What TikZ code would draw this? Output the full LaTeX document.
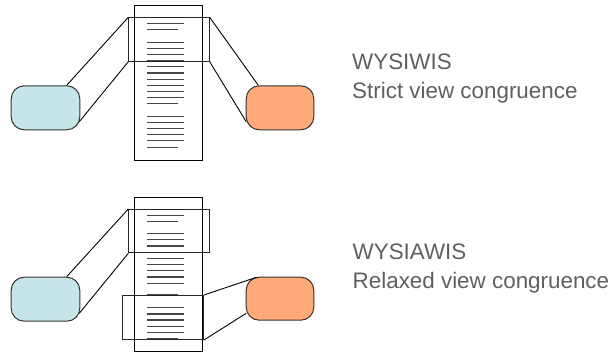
\documentclass[tikz,border=0pt]{standalone}
\usepackage{fontspec}
\setmainfont{Liberation Sans}
\definecolor{captiongray}{RGB}{95,95,95}
\definecolor{viewblue}{RGB}{198,229,232}
\definecolor{vieworange}{RGB}{255,170,120}
\tikzset{
  page/.style={draw=black, line width=1pt, fill=white, inner sep=0pt, anchor=north west},
  textline/.style={draw=black!72, line width=1.1pt},
  win/.style={draw=black!85, line width=1pt, inner sep=0pt, anchor=north west},
  link/.style={draw=black, line width=0.9pt},
  viewbox/.style={draw=black!80, line width=1pt, rounded corners=13pt, inner sep=0pt, anchor=north west},
  caption/.style={anchor=base west, text=captiongray, inner sep=0pt,
    font=\fontsize{22.4}{29}\selectfont, align=left}
}
\begin{document}
\begin{tikzpicture}[x=1pt,y=-1pt]
\useasboundingbox (0,0) rectangle (616,353);

% ---------- WYSIWIS: both views show the same region ----------
\node[page, minimum width=68pt, minimum height=155pt] (doc1) at (134.3,5) {};
\foreach \yy in {23.7, 42.3, 48.45, 54.6, 60.75, 66.9, 73.05, 79.2, 85.35, 91.5, 97.65,
                 116.3, 122.45, 128.6, 134.75, 140.9}
  \draw[textline] (146.7,\yy) -- (183.7,\yy);
\foreach \yy in {29.9, 103.8, 147.05}
  \draw[textline] (146.7,\yy) -- (177.7,\yy);

\node[win, minimum width=80.4pt, minimum height=43.4pt] (win1) at (128.3,17.3) {};

\node[viewbox, fill=viewblue, minimum width=68.6pt, minimum height=44pt] (blue1) at (10.7,85.3) {};
\node[viewbox, fill=vieworange, minimum width=67.6pt, minimum height=44pt] (orange1) at (245.7,85.3) {};

\coordinate (b1a) at (66.7,85.3);
\coordinate (b1b) at (79.3,121.7);
\coordinate (o1a) at (258.3,85.3);
\coordinate (o1b) at (246.2,121.7);
\draw[link] (win1.north west) -- (b1a);
\draw[link] (win1.south west) -- (b1b);
\draw[link] (win1.north east) -- (o1a);
\draw[link] (win1.south east) -- (o1b);

% the anchor sits on the baseline of the last caption line
\node[caption] (cap1) at (352,98.3) {WYSIWIS\\Strict view congruence};

% ---------- WYSIAWIS: the views show different regions ----------
\node[page, minimum width=68pt, minimum height=154pt] (doc2) at (134.3,197) {};
\foreach \yy in {215.3, 233.7, 239.7, 246, 252.3, 258.3, 264.7, 270.7, 277, 283.3,
                 307.7, 314, 320, 326.3, 332.3}
  \draw[textline] (146.7,\yy) -- (183.7,\yy);
\foreach \yy in {221.3, 295, 339}
  \draw[textline] (146.7,\yy) -- (177.7,\yy);

\node[win, minimum width=80.4pt, minimum height=43.3pt] (win2) at (128.3,209) {};
\node[win, minimum width=81pt, minimum height=44pt] (win3) at (122,295) {};

\node[viewbox, fill=viewblue, minimum width=68.6pt, minimum height=44pt] (blue2) at (10.7,276.7) {};
\node[viewbox, fill=vieworange, minimum width=67.6pt, minimum height=43pt] (orange2) at (245.7,276.7) {};

\coordinate (b2a) at (66.7,276.7);
\coordinate (b2b) at (79.3,313.3);
\coordinate (o2a) at (256.7,277.2);
\coordinate (o2b) at (246.2,313.3);
\draw[link] (win2.north west) -- (b2a);
\draw[link] (win2.south west) -- (b2b);
\draw[link] (win3.north east) -- (o2a);
\draw[link] (win3.south east) -- (o2b);

\node[caption] (cap2) at (352.5,288.3) {WYSIAWIS\\Relaxed view congruence};
\end{tikzpicture}
\end{document}
